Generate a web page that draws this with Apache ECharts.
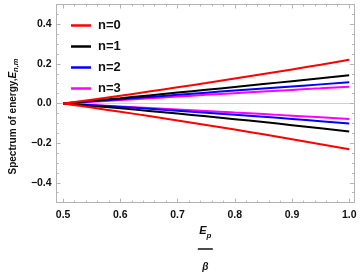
<!DOCTYPE html>
<html><head><meta charset="utf-8">
<script src="https://cdn.jsdelivr.net/npm/echarts@6/dist/echarts.min.js"></script>
<style>html,body{margin:0;padding:0;background:#fff}#c{width:360px;height:277px}</style>
</head><body><div id="c"></div>
<script>
const xVals = [0.5, 0.55, 0.6, 0.65, 0.7, 0.75, 0.8, 0.85, 0.9, 0.95, 1.0];
const n0Upper = [0, 0.0196, 0.0398, 0.0605, 0.0818, 0.1036, 0.126, 0.149, 0.1724, 0.1964, 0.221];
const n0Lower = [0, -0.0204, -0.0414, -0.0630, -0.0852, -0.1080, -0.1314, -0.1554, -0.1800, -0.2052, -0.231];
const n1Upper = [0, 0.0135, 0.0272, 0.0411, 0.0552, 0.0694, 0.0838, 0.0983, 0.1130, 0.1279, 0.143];
const n1Lower = [0, -0.0119, -0.0243, -0.0372, -0.0506, -0.0645, -0.0788, -0.0937, -0.1090, -0.1248, -0.141];
const n2Upper = [0, 0.0112, 0.0223, 0.0333, 0.0441, 0.0549, 0.0655, 0.0760, 0.0865, 0.0968, 0.107];
const n2Lower = [0, -0.0084, -0.0172, -0.0264, -0.0360, -0.0459, -0.0562, -0.0668, -0.0778, -0.0892, -0.101];
const n3Upper = [0, 0.0090, 0.0179, 0.0267, 0.0354, 0.0439, 0.0523, 0.0607, 0.0689, 0.0770, 0.085];
const n3Lower = [0, -0.0072, -0.0145, -0.0220, -0.0296, -0.0373, -0.0452, -0.0531, -0.0613, -0.0695, -0.078];
const seriesNames = ['n=0', 'n=1', 'n=2', 'n=3'];
const xTicks = [0.5, 0.6, 0.7, 0.8, 0.9, 1.0];
const xMinorTicks = [0.52,0.54,0.56,0.58,0.62,0.64,0.66,0.68,0.72,0.74,0.76,0.78,0.82,0.84,0.86,0.88,0.92,0.94,0.96,0.98];
const yTicks = [-0.4, -0.2, 0.0, 0.2, 0.4];
const yMinorTicks = [-0.45,-0.35,-0.3,-0.25,-0.15,-0.1,-0.05,0.05,0.1,0.15,0.25,0.3,0.35,0.45];

const colors = ['#ff0000', '#000000', '#0000ff', '#ff00ff'];
const XMIN = 0.4887, XMAX = 1.0084, YMIN = -0.5, YMAX = 0.5;
const frame = '#b4b4b4';
const FONT = '"Liberation Sans", Arial, sans-serif';

function pairs(ys){ return xVals.map((x,i)=>[x, ys[i]]); }
const groups = [[n0Upper,n0Lower],[n1Upper,n1Lower],[n2Upper,n2Lower],[n3Upper,n3Lower]];
const series = [];
groups.forEach((g, k) => {
  g.forEach(ys => series.push({
    type: 'line', name: seriesNames[k], data: pairs(ys), smooth: true,
    showSymbol: false, symbol: 'none', xAxisIndex: 0, yAxisIndex: 0,
    lineStyle: { color: colors[k], width: 2 }, itemStyle: { color: colors[k] },
    z: 10 - k, silent: true, animation: false
  }));
});

function xAxis(pos, ticks, len, labels, line, extra) {
  return Object.assign({
    type: 'value', position: pos, min: XMIN, max: XMAX, gridIndex: 0,
    axisLine: { show: line, onZero: false, lineStyle: { color: frame, width: 1 } },
    axisTick: { show: true, inside: true, length: len, customValues: ticks, lineStyle: { color: frame } },
    axisLabel: labels ? { show: true, customValues: ticks, formatter: v => v.toFixed(1), color: '#111',
      fontFamily: FONT, fontWeight: 'bold', fontSize: 10.5, margin: 7 } : { show: false },
    splitLine: { show: false }
  }, extra || {});
}
function yAxis(pos, ticks, len, labels, line) {
  return {
    type: 'value', position: pos, min: YMIN, max: YMAX, gridIndex: 0,
    axisLine: { show: line, onZero: false, lineStyle: { color: frame, width: 1 } },
    axisTick: { show: true, inside: true, length: len, customValues: ticks, lineStyle: { color: frame } },
    axisLabel: labels ? { show: true, customValues: ticks, formatter: v => (v < 0 ? '\u2212' : '') + Math.abs(v).toFixed(1),
      color: '#111', fontFamily: FONT, fontWeight: 'bold', fontSize: 10.5, margin: 5 } : { show: false },
    splitLine: { show: false }
  };
}

const xAxes = [
  xAxis('bottom', xTicks, 4, true, true, {
    name: '{e|E}{p|p}\n{bar|}\n{b|\u03b2}', nameLocation: 'middle', nameGap: 12,
    nameTextStyle: { verticalAlign: 'top', align: 'center', rich: {
      e: { fontFamily: FONT, fontWeight: 'bold', fontStyle: 'italic', fontSize: 11, color: '#111', lineHeight: 18 },
      p: { fontFamily: FONT, fontWeight: 'bold', fontStyle: 'italic', fontSize: 8, color: '#111', verticalAlign: 'bottom', lineHeight: 16 },
      bar: { width: 15, height: 1.5, backgroundColor: '#111', lineHeight: 18 },
      b: { fontFamily: FONT, fontWeight: 'bold', fontStyle: 'italic', fontSize: 10, color: '#111', lineHeight: 18 }
    } }
  }),
  xAxis('bottom', xMinorTicks, 2, false, false),
  xAxis('top', xTicks, 4, false, true),
  xAxis('top', xMinorTicks, 2, false, false),
  { type: 'value', position: 'bottom', min: XMIN, max: XMAX, gridIndex: 0,
    axisLine: { show: true, onZero: true, onZeroAxisIndex: 0, lineStyle: { color: '#d0d0d0', width: 1 } },
    axisTick: { show: false }, axisLabel: { show: false }, splitLine: { show: false } }
];
const yAxes = [
  Object.assign(yAxis('left', yTicks, 4, true, true), {
    name: '{t|Spectrum of energy,}{e|E}{s|n,m}', nameLocation: 'middle', nameRotate: 90, nameGap: 32,
    nameTextStyle: { padding: [0, 26, 0, 0], rich: {
      t: { fontFamily: FONT, fontWeight: 'bold', fontSize: 10, color: '#111', lineHeight: 14 },
      e: { fontFamily: FONT, fontWeight: 'bold', fontStyle: 'italic', fontSize: 10, color: '#111', lineHeight: 14 },
      s: { fontFamily: FONT, fontWeight: 'bold', fontStyle: 'italic', fontSize: 7.5, color: '#111', verticalAlign: 'bottom', lineHeight: 14 }
    } }
  }),
  yAxis('left', yMinorTicks, 2, false, false),
  yAxis('right', yTicks, 4, false, true),
  yAxis('right', yMinorTicks, 2, false, false)
];

const chart = echarts.init(document.getElementById('c'), null, { renderer: 'canvas' });
chart.setOption({
  animation: false,
  backgroundColor: '#fff',
  grid: { left: 45, right: 6, top: 4.5, bottom: 69, containLabel: false },
  xAxis: xAxes,
  yAxis: yAxes,
  legend: {
    data: seriesNames, orient: 'vertical', left: 66, top: 14,
    icon: 'path://M0,0 L20,0 L20,2.5 L0,2.5 Z',
    itemWidth: 20, itemHeight: 3, itemGap: 8,
    textStyle: { fontFamily: FONT, fontWeight: 'bold', fontSize: 13, color: '#111', padding: [0,0,0,2] },
    selectedMode: false
  },
  series: series
});
</script></body></html>
